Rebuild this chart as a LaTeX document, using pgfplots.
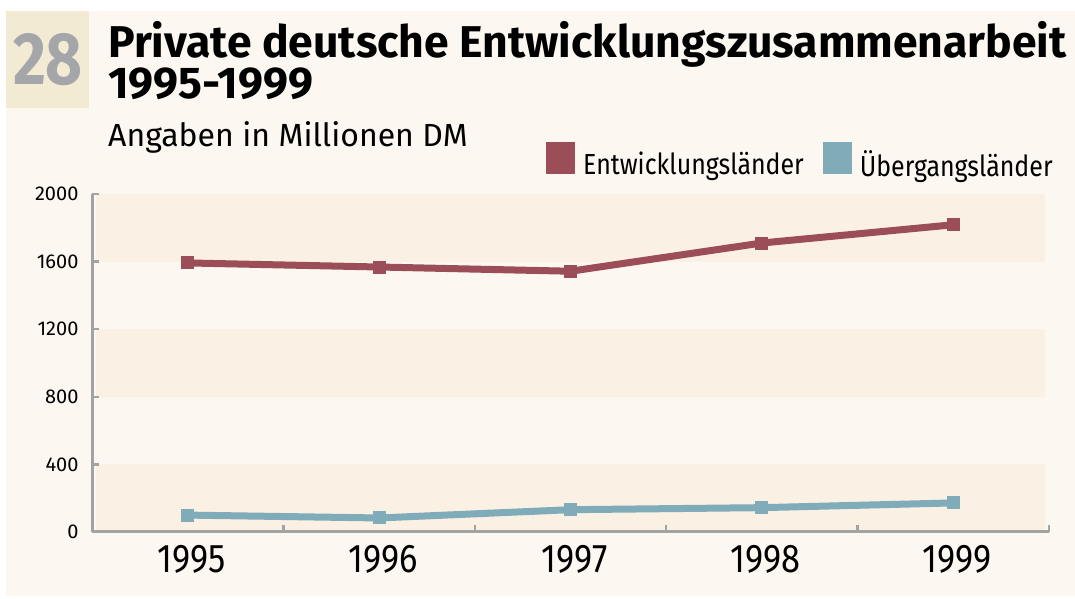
\documentclass[border=0pt]{standalone}
\usepackage{fontspec}
\setmainfont{Fira Sans}
\newfontfamily\cond{Fira Sans}[FakeStretch=0.86]
\usepackage{pgfplots}
\pgfplotsset{compat=1.18}
\definecolor{bgc}{HTML}{FCF8F1}
\definecolor{bandc}{HTML}{FAF1E4}
\definecolor{boxc}{HTML}{F2EAD3}
\definecolor{redc}{HTML}{9C4E58}
\definecolor{bluec}{HTML}{80ABB8}
\definecolor{axc}{HTML}{A3A3A3}
\definecolor{numc}{HTML}{A4A6A9}
\begin{document}
\begin{tikzpicture}
\fill[white] (0pt,0pt) rectangle (1075pt,599pt);
\fill[bgc] (6pt,3pt) rectangle (1075pt,588pt);
\fill[boxc] (6pt,491pt) rectangle (89pt,588pt);
\node[numc,font=\cond\bfseries\fontsize{74}{74}\selectfont] at (48pt,539pt) {28};
\node[anchor=base west,inner sep=0,font=\bfseries\fontsize{44.5}{44.5}\selectfont] at (108pt,541pt) {Private deutsche Entwicklungszusammenarbeit};
\node[anchor=base west,inner sep=0,font=\bfseries\fontsize{44.5}{44.5}\selectfont] at (108pt,500pt) {1995-1999};
\node[anchor=base west,inner sep=0,font=\fontsize{32}{32}\selectfont] at (108pt,452pt) {Angaben in Millionen DM};
\begin{axis}[
  axis on top,
  at={(92pt,67pt)}, anchor=south west,
  scale only axis, width=957pt, height=338pt,
  xmin=1994.5, xmax=1999.5, ymin=0, ymax=2000,
  axis x line=bottom, axis y line=left,
  axis line style={-, axc, line width=3pt},
  xtick={1995,...,1999},
  minor xtick={1995.5,1996.5,1997.5,1998.5,1999.5},
  ytick={0,400,...,2000},
  tick align=inside,
  major tick length=7pt, minor tick length=7pt,
  x tick style={draw=none},
  minor x tick style={draw=axc, line width=2.5pt},
  y tick style={axc, line width=2.5pt},
  /pgf/number format/assume math mode=true,
  xticklabel={\pgfmathprintnumber[1000 sep={}]{\tick}},
  yticklabel={\pgfmathprintnumber[1000 sep={}]{\tick}},
  xticklabel style={font=\cond\fontsize{40}{40}\selectfont, yshift=-10pt, xshift=4pt},
  yticklabel style={font=\fontsize{20}{20}\selectfont, xshift=-10pt},
  legend columns=2,
  legend style={at={(1.004,1.047)}, anchor=south east, draw=none, fill=none, inner sep=0pt,
    font=\cond\fontsize{29}{29}\selectfont,
    nodes={inner sep=0pt},
    /tikz/every odd column/.style={column sep=8pt},
    /tikz/every even column/.style={column sep=19pt}},
  legend image code/.code={\path[fill, draw=none] (0pt,-10pt) rectangle (29pt,22pt);},
]
\fill[bandc] (axis cs:1994.52,0) rectangle (axis cs:1999.48,400);
\fill[bandc] (axis cs:1994.52,800) rectangle (axis cs:1999.48,1200);
\fill[bandc] (axis cs:1994.52,1600) rectangle (axis cs:1999.48,2000);
\addplot[color=redc, line width=7pt, mark=square*, mark size=6pt, mark options={line width=0pt}]
  coordinates {(1995,1592) (1996,1568) (1997,1543) (1998,1710) (1999,1818)};
\addlegendentry{Entwicklungsländer}
\addplot[color=bluec, line width=7pt, mark=square*, mark size=6pt, mark options={line width=0pt}]
  coordinates {(1995,100) (1996,83) (1997,132) (1998,144) (1999,172)};
\addlegendentry{Übergangsländer}
\end{axis}
\end{tikzpicture}
\end{document}
